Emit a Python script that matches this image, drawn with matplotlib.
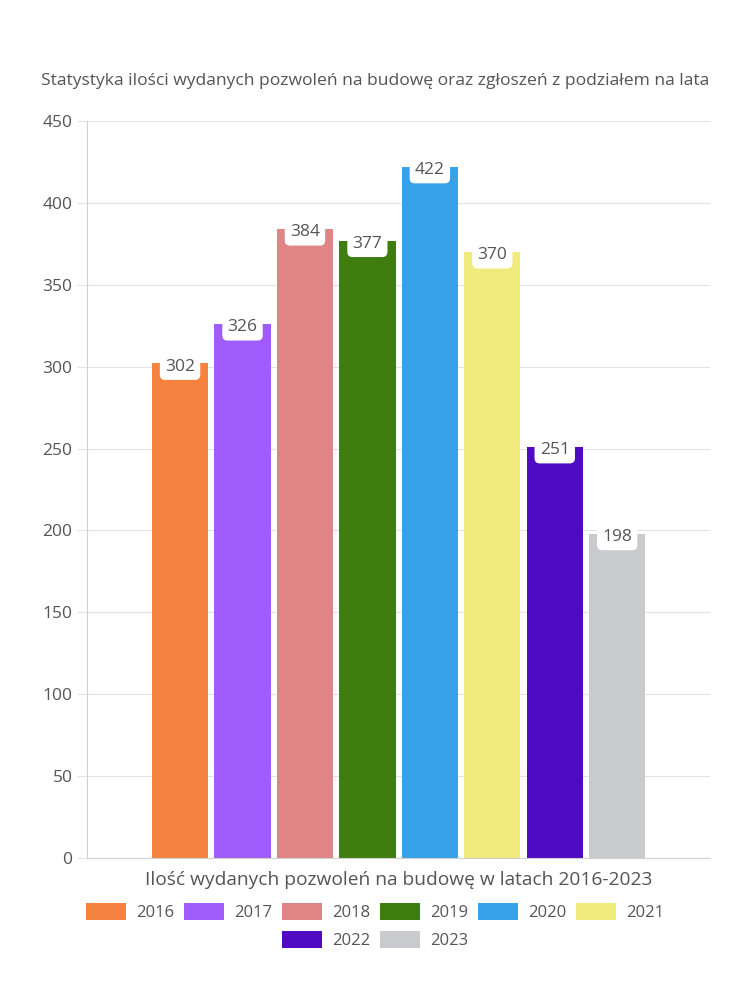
import matplotlib.pyplot as plt
from matplotlib.patches import Patch

# Building permit statistics per year
years = ["2016", "2017", "2018", "2019", "2020", "2021", "2022", "2023"]
permits = [302, 326, 384, 377, 422, 370, 251, 198]
colors = ["#F5833F", "#A05CFC", "#E08585", "#3E7D0E",
          "#37A2EA", "#F0EB7C", "#500AC2", "#C9CACE"]
y_ticks = [0, 50, 100, 150, 200, 250, 300, 350, 400, 450]

title = "Statystyka ilości wydanych pozwoleń na budowę oraz zgłoszeń z podziałem na lata"
xlabel = "Ilość wydanych pozwoleń na budowę w latach 2016-2023"

plt.rcParams['font.family'] = ['Open Sans', 'DejaVu Sans']
txt_col = "#555555"
grid_col = "#E3E3E3"

fig = plt.figure(figsize=(7.5, 10), dpi=100)
ax = fig.add_axes([0.116, 0.142, 0.831, 0.737])

xs = list(range(len(years)))
ax.bar(xs, permits, width=0.9, color=colors, zorder=2)

for x, v in zip(xs, permits):
    ax.text(x, v - 2, str(v), ha="center", va="center", fontsize=12.5, color=txt_col,
            bbox=dict(boxstyle="round,pad=0.3,rounding_size=0.3", fc="white", ec="none"),
            zorder=3)

ax.set_xlim(-1.49, 8.49)
ax.set_ylim(0, 450)
ax.set_yticks(y_ticks)
ax.set_xticks([])
ax.grid(axis="y", color=grid_col, linewidth=0.8, zorder=0)
ax.tick_params(axis="y", colors=grid_col, labelcolor=txt_col, labelsize=12.5, length=7, width=0.8)
for s in ["top", "right"]:
    ax.spines[s].set_visible(False)
ax.spines["left"].set_color("#D0D0D0")
ax.spines["bottom"].set_color("#D0D0D0")

fig.text(0.5, 0.919, title, ha="center", va="center", fontsize=12.6, color=txt_col)
fig.text(0.532, 0.12, xlabel, ha="center", va="center", fontsize=13.8, color=txt_col)

# two legend rows: 6 entries, then 2 entries centred below
handles = [Patch(facecolor=c, edgecolor="none") for c in colors]
kw = dict(frameon=False, fontsize=12, handlelength=2.4, handleheight=1.15,
          columnspacing=0.6, handletextpad=0.6, labelcolor=txt_col)
fig.legend(handles[:6], years[:6], loc="center", bbox_to_anchor=(0.5, 0.088),
           ncol=6, **kw)
fig.legend(handles[6:], years[6:], loc="center", bbox_to_anchor=(0.5, 0.06),
           ncol=2, **kw)

fig.savefig("out.png", dpi=100, facecolor="white")
